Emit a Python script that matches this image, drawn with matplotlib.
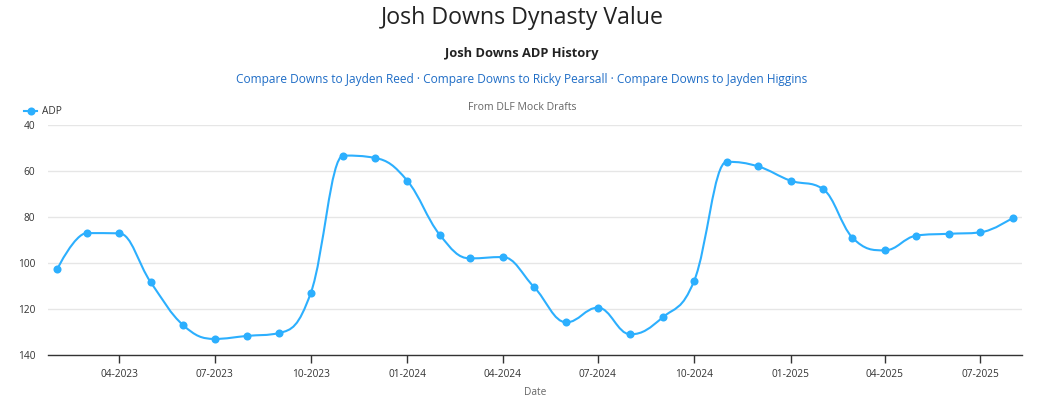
import matplotlib
matplotlib.use("Agg")
import matplotlib.pyplot as plt
import matplotlib.dates as mdates
from matplotlib.path import Path
from matplotlib.patches import PathPatch
from matplotlib.lines import Line2D
import datetime as dt
import numpy as np

plt.rcParams['font.family'] = ['Open Sans', 'DejaVu Sans']

# ---- data ----
months = ["2023-02", "2023-03", "2023-04", "2023-05", "2023-06", "2023-07", "2023-08",
          "2023-09", "2023-10", "2023-11", "2023-12", "2024-01", "2024-02", "2024-03",
          "2024-04", "2024-05", "2024-06", "2024-07", "2024-08", "2024-09", "2024-10",
          "2024-11", "2024-12", "2025-01", "2025-02", "2025-03", "2025-04", "2025-05",
          "2025-06", "2025-07", "2025-08"]
adp = [102.5, 87.0, 87.1, 108.3, 127.0, 133.0, 131.7, 130.4, 112.9, 53.3, 54.3,
       64.2, 87.7, 98.0, 97.4, 110.4, 125.8, 119.4, 131.0, 123.6, 107.7,
       56.0, 58.0, 64.2, 67.8, 89.0, 94.5, 88.1, 87.3, 86.7, 80.4]
y_ticks = [40, 60, 80, 100, 120, 140]

page_title = "Josh Downs Dynasty Value"
chart_title = "Josh Downs ADP History"
links = "Compare Downs to Jayden Reed \u00b7 Compare Downs to Ricky Pearsall \u00b7 Compare Downs to Jayden Higgins"
subtitle = "From DLF Mock Drafts"
series_name = "ADP"
x_label = "Date"

COLOR = "#2caffe"

dates = [dt.datetime.strptime(m + "-01", "%Y-%m-%d") for m in months]
xs = mdates.date2num(dates)
ys = np.array(adp, dtype=float)


def highcharts_spline(x, y, smoothing=1.5):
    n = len(x)
    denom = smoothing + 1
    right_c = [None] * n
    left_c = [None] * n
    for i in range(n):
        px, py = x[i], y[i]
        if 0 < i < n - 1:
            lx, ly = x[i - 1], y[i - 1]
            nx, ny = x[i + 1], y[i + 1]
            lcx = (smoothing * px + lx) / denom
            lcy = (smoothing * py + ly) / denom
            rcx = (smoothing * px + nx) / denom
            rcy = (smoothing * py + ny) / denom
            corr = 0.0
            if rcx != lcx:
                corr = ((rcy - lcy) * (rcx - px)) / (rcx - lcx) + py - rcy
            lcy += corr
            rcy += corr
            if lcy > ly and lcy > py:
                lcy = max(ly, py)
                rcy = 2 * py - lcy
            elif lcy < ly and lcy < py:
                lcy = min(ly, py)
                rcy = 2 * py - lcy
            if rcy > ny and rcy > py:
                rcy = max(ny, py)
                lcy = 2 * py - rcy
            elif rcy < ny and rcy < py:
                rcy = min(ny, py)
                lcy = 2 * py - rcy
            left_c[i] = (lcx, lcy)
            right_c[i] = (rcx, rcy)
    verts = [(x[0], y[0])]
    codes = [Path.MOVETO]
    for i in range(1, n):
        c1 = right_c[i - 1] if right_c[i - 1] is not None else (x[i - 1], y[i - 1])
        c2 = left_c[i] if left_c[i] is not None else (x[i], y[i])
        verts += [c1, c2, (x[i], y[i])]
        codes += [Path.CURVE4] * 3
    return Path(verts, codes)


fig = plt.figure(figsize=(10.44, 3.99), dpi=100)
W, H = 1044, 399
ax = fig.add_axes([48 / W, 1 - 355 / H, (1022 - 48) / W, (355 - 125) / H])

path = highcharts_spline(xs, ys)
ax.add_patch(PathPatch(path, facecolor="none", edgecolor=COLOR, lw=1.5, zorder=3,
                       capstyle="round", joinstyle="round"))
ax.plot(xs, ys, linestyle="none", marker="o", markersize=5.8, color=COLOR,
        markeredgewidth=0, zorder=4)

ax.set_xlim(mdates.date2num(dt.datetime(2023, 1, 23)), mdates.date2num(dt.datetime(2025, 8, 10)))
ax.set_ylim(140, 40)
ax.set_yticks(y_ticks)
ax.yaxis.grid(True, color="#e6e6e6", lw=1)
ax.set_axisbelow(True)

ax.xaxis.set_major_locator(mdates.MonthLocator(bymonth=[1, 4, 7, 10]))
ax.xaxis.set_major_formatter(mdates.DateFormatter("%m-%Y"))

for s in ["top", "right", "left"]:
    ax.spines[s].set_visible(False)
ax.spines["bottom"].set_color("#333333")
ax.spines["bottom"].set_linewidth(1)
ax.spines["bottom"].set_zorder(5)

ax.tick_params(axis="x", length=6, width=1, color="#333333", labelsize=7.3,
               labelcolor="#333333", pad=4)
ax.tick_params(axis="y", length=0, labelsize=7.3, labelcolor="#333333", pad=9)

ax.set_xlabel(x_label, fontsize=7.3, color="#666666", labelpad=5)

# titles
fig.text(0.5, 1 - 17.5 / H, page_title, ha="center", va="center", fontsize=16.7, color="#222222")
fig.text(0.5, 1 - 54 / H, chart_title, ha="center", va="center", fontsize=9.3,
         fontweight="bold", color="#222222")
fig.text(0.5, 1 - 79 / H, links, ha="center", va="center", fontsize=8.6, color="#1f6dc6")
fig.text(0.5, 1 - 107 / H, subtitle, ha="center", va="center", fontsize=7.6, color="#666666")

# legend
handle = Line2D([], [], color=COLOR, lw=1.5, marker="o", markersize=5.8, markeredgewidth=0)
leg = fig.legend([handle], [series_name], loc="center left",
                 bbox_to_anchor=(24 / W, 1 - 112 / H), frameon=False, fontsize=7.3,
                 handlelength=1.3, handletextpad=0.5, borderpad=0, borderaxespad=0)
for t in leg.get_texts():
    t.set_color("#333333")

fig.savefig("out.png", dpi=100)
